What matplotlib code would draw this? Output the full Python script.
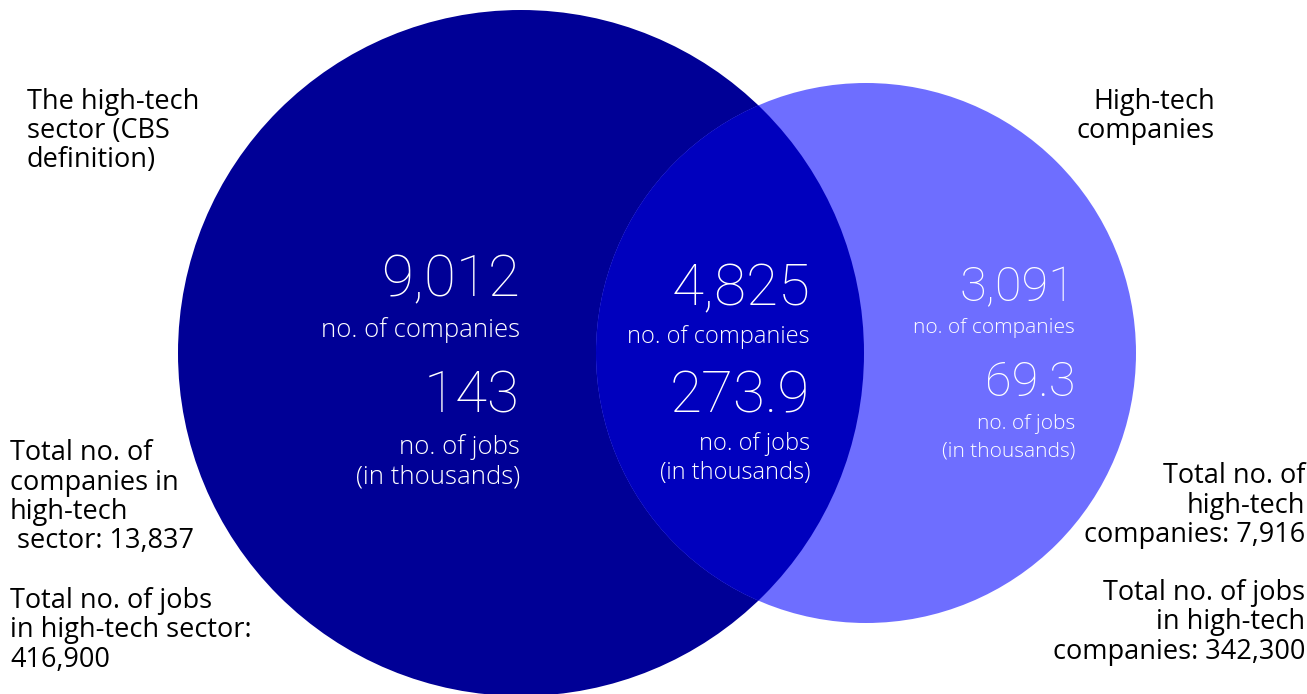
import matplotlib
matplotlib.use("Agg")
import matplotlib.pyplot as plt
from matplotlib.patches import Circle

plt.rcParams['font.family'] = ['Open Sans', 'DejaVu Sans']
num_font = ['Roboto', 'DejaVu Sans']

# data
region_counts = ["9,012", "4,825", "3,091"]
region_jobs = ["143", "273.9", "69.3"]
set_names = ["The high-tech\nsector (CBS\ndefinition)", "High-tech\ncompanies"]
totals_left = ["Total no. of\ncompanies in\nhigh-tech\n sector: 13,837",
               "Total no. of jobs\nin high-tech sector:\n416,900"]
totals_right = ["Total no. of\nhigh-tech\ncompanies: 7,916",
                "Total no. of jobs\nin high-tech\ncompanies: 342,300"]

c_big = "#000096"
c_small = "#6E6EFF"
c_both = "#0000BE"

fig = plt.figure(figsize=(13.07, 6.94), dpi=100)
ax = fig.add_axes([0, 0, 1, 1])
ax.set_xlim(0, 1307)
ax.set_ylim(694, 0)
ax.set_aspect('equal')
ax.axis('off')

big = Circle((521, 353), 343, color=c_big, lw=0)
small = Circle((866, 353), 270, color=c_small, lw=0)
ax.add_patch(big)
ax.add_patch(small)
both = Circle((866, 353), 270, color=c_both, lw=0)
ax.add_patch(both)
both.set_clip_path(big)


def lines(x, y0, text, step, ha, size, color='black', weight='normal'):
    for i, ln in enumerate(text.split("\n")):
        ax.text(x, y0 + i * step, ln, ha=ha, va='center', fontsize=size,
                color=color, fontweight=weight)


# region values
xs = [520, 810, 1075]
cnt_y = [281, 290, 288]
cnt_lab_y = [330, 337, 328]
job_y = [397, 397, 383]
job_lab_y = [447, 444, 424]
big_sz = [42, 42, 35]
small_sz = [18.5, 17, 15]
lab_step = [30, 29, 27]
for i in range(3):
    ax.text(xs[i], cnt_y[i], region_counts[i], ha='right', va='center',
            fontsize=big_sz[i], color='white', family=num_font, fontweight='light')
    ax.text(xs[i], cnt_lab_y[i], "no. of companies", ha='right', va='center',
            fontsize=small_sz[i], color='white', fontweight='light')
    ax.text(xs[i], job_y[i], region_jobs[i], ha='right', va='center',
            fontsize=big_sz[i], color='white', family=num_font, fontweight='light')
    lines(xs[i], job_lab_y[i], "no. of jobs\n(in thousands)", lab_step[i], 'right',
          small_sz[i], color='white', weight='light')

# set names and totals
lines(27, 102, set_names[0], 29, 'left', 19.5)
lines(1215, 102, set_names[1], 29, 'right', 19.5)
lines(10, 453, totals_left[0], 29.5, 'left', 19.5)
lines(10, 601, totals_left[1], 29.5, 'left', 19.5)
lines(1305, 476, totals_right[0], 29.5, 'right', 19.5)
lines(1305, 593, totals_right[1], 29.5, 'right', 19.5)

fig.savefig("out.png", dpi=100)
